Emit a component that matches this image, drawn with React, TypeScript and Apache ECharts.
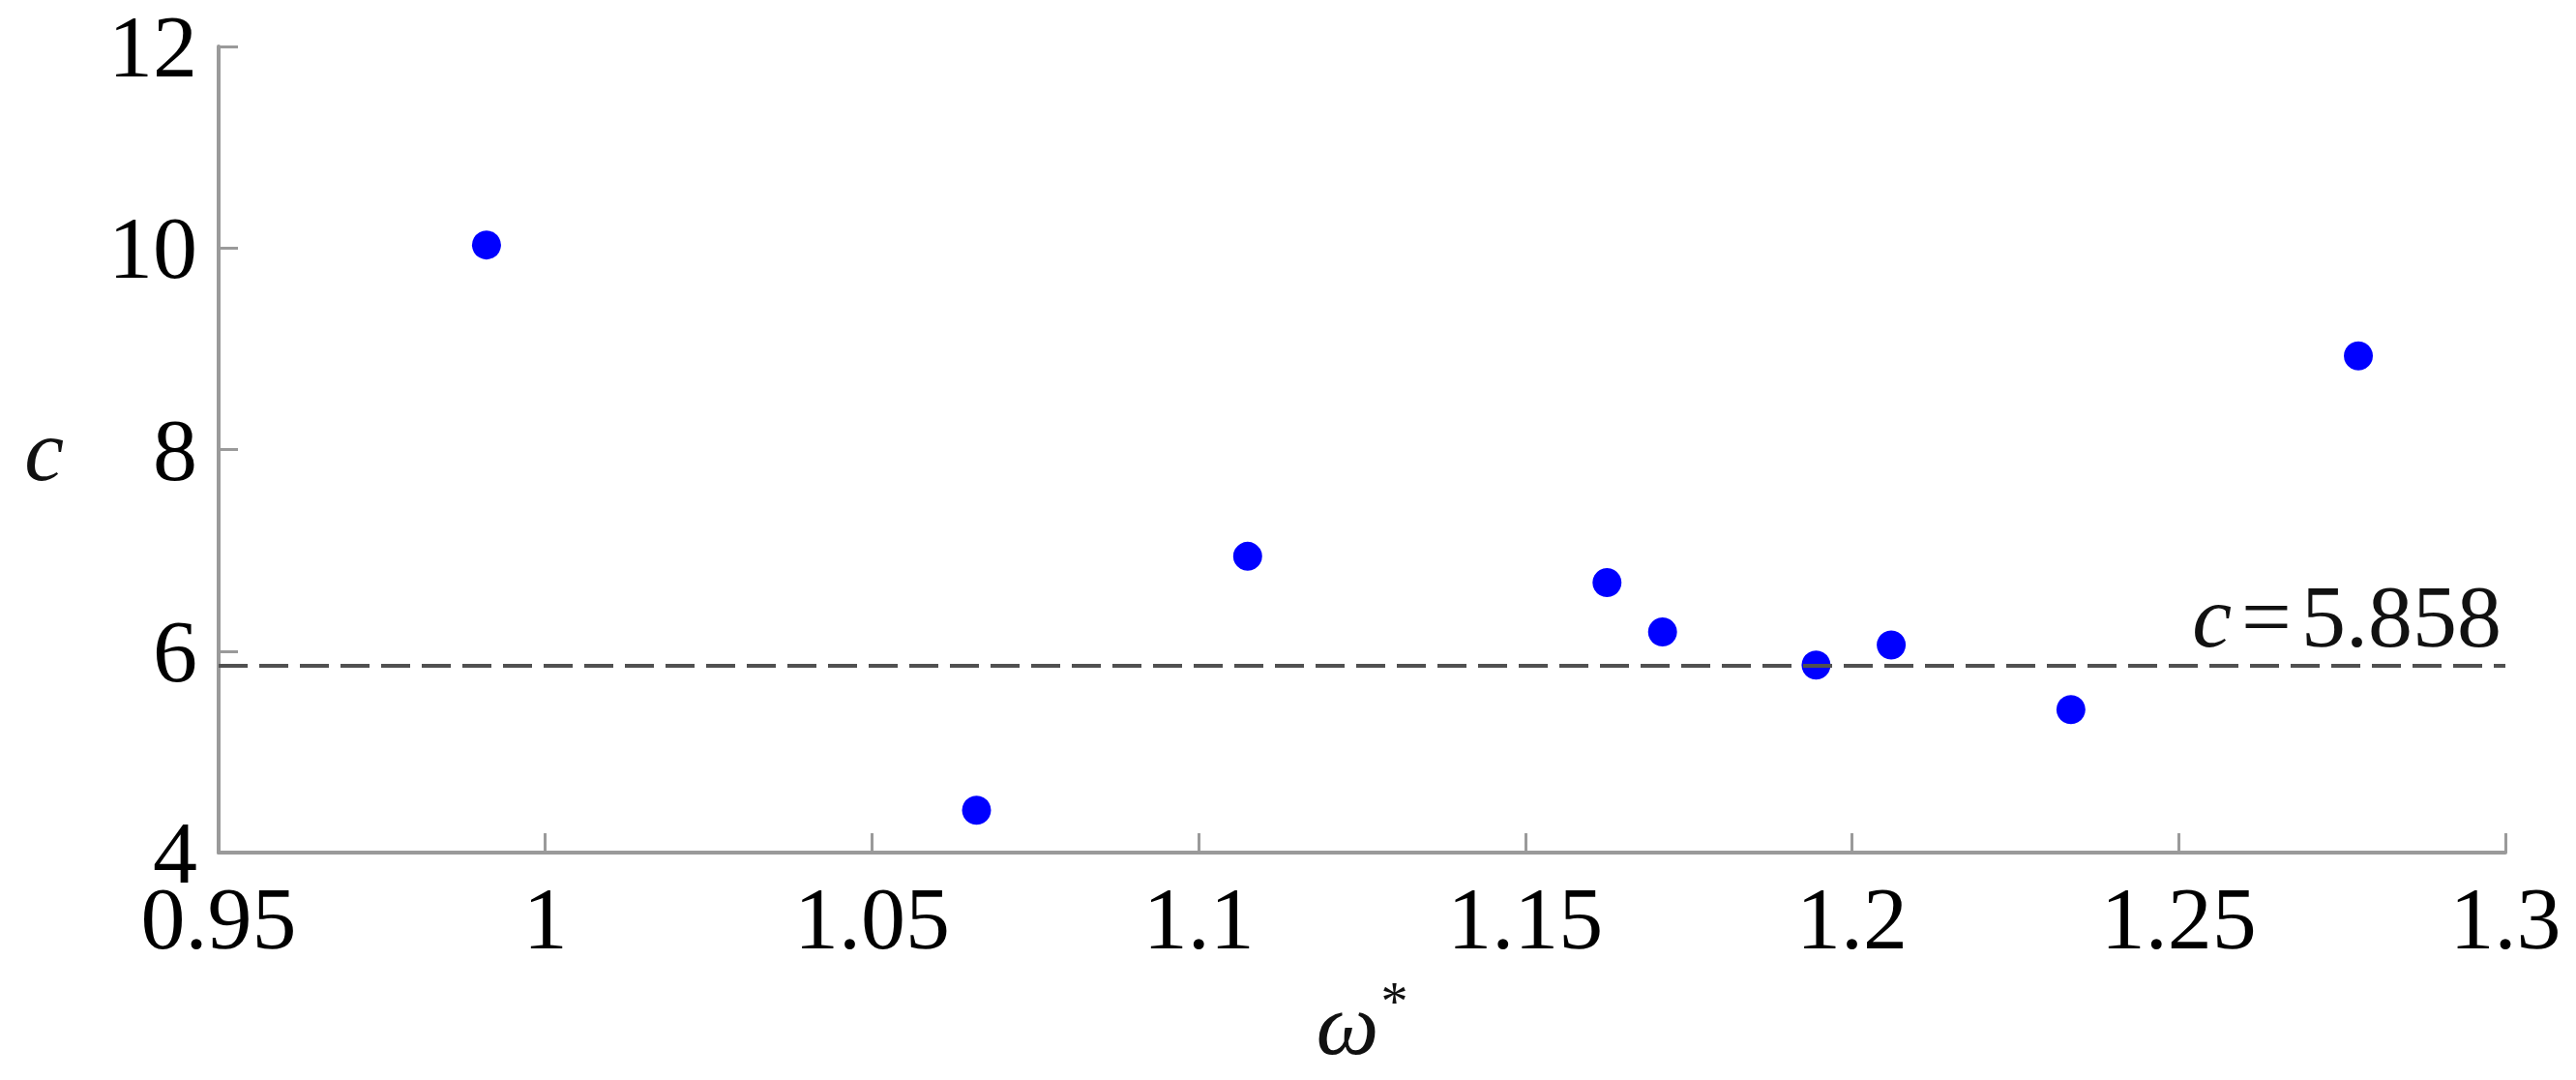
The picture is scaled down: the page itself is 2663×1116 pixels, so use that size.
import React, { useEffect, useRef } from "react";
import * as echarts from "echarts";

const omegaValues = [0.991, 1.066, 1.1075, 1.1625, 1.171, 1.1945, 1.206, 1.2335, 1.2775];
const cValues = [10.03, 4.42, 6.94, 6.68, 6.19, 5.86, 6.06, 5.42, 8.93];
const referenceC = 5.858;
const xTicks = { min: 0.95, max: 1.3, interval: 0.05 };
const yTicks = { min: 4, max: 12, interval: 2 };

const FONT = "'Liberation Serif', 'DejaVu Serif', serif";

export default function App() {
  const ref = useRef<HTMLDivElement>(null);
  useEffect(() => {
    document.body.style.margin = "0";
    const chart = echarts.init(ref.current!, null, { renderer: "svg" });
    const points = omegaValues.map((x, i) => [x, cValues[i]]);
    const axisCommon = {
      axisLine: { show: true, lineStyle: { color: "#9a9a9a", width: 4 } },
      axisTick: { show: true, inside: true, length: 20, lineStyle: { color: "#9a9a9a", width: 3 } },
      splitLine: { show: false },
    };
    chart.setOption({
      animation: false,
      backgroundColor: "#ffffff",
      grid: { left: 226, right: 73, top: 48, bottom: 235, containLabel: false },
      xAxis: {
        type: "value",
        min: xTicks.min,
        max: xTicks.max,
        interval: xTicks.interval,
        ...axisCommon,
        axisLabel: {
          color: "#000",
          fontFamily: FONT,
          fontSize: 92,
          lineHeight: 64,
          margin: 36,
          formatter: (v: number) => String(parseFloat(v.toFixed(2))),
        },
        name: "{w|ω}{s|*}",
        nameLocation: "middle",
        nameGap: 126,
        nameTextStyle: {
          rich: {
            w: { fontFamily: FONT, fontStyle: "italic", fontSize: 92, color: "#111" },
            s: { fontFamily: FONT, fontSize: 56, color: "#111", verticalAlign: "top", padding: [0, 0, 46, 2] },
          },
        },
      },
      yAxis: {
        type: "value",
        min: yTicks.min,
        max: yTicks.max,
        interval: yTicks.interval,
        ...axisCommon,
        axisLabel: {
          color: "#000",
          fontFamily: FONT,
          fontSize: 92,
          lineHeight: 60,
          margin: 22,
        },
        name: "c",
        nameLocation: "middle",
        nameRotate: 0,
        nameGap: 160,
        nameTextStyle: { fontFamily: FONT, fontStyle: "italic", fontSize: 92, color: "#111" },
      },
      series: [
        {
          type: "scatter",
          data: points,
          symbol: "circle",
          symbolSize: 30,
          itemStyle: { color: "#0000ff", opacity: 1 },
          markLine: {
            silent: true,
            symbol: ["none", "none"],
            data: [{ yAxis: referenceC }],
            lineStyle: { type: [30, 12], color: "#505050", width: 4, opacity: 1 },
            label: {
              show: true,
              position: "insideEndTop",
              distance: 4,
              formatter: "{i|c}{e|=}{n|" + referenceC + "}",
              rich: {
                i: { fontFamily: FONT, fontStyle: "italic", fontSize: 92, color: "#111" },
                e: { fontFamily: FONT, fontSize: 92, color: "#111", padding: [0, 10, 0, 10] },
                n: { fontFamily: FONT, fontSize: 92, color: "#111" },
              },
            },
          },
        },
      ],
    });
    return () => chart.dispose();
  }, []);
  return <div ref={ref} style={{ width: 2663, height: 1116 }} />;
}
